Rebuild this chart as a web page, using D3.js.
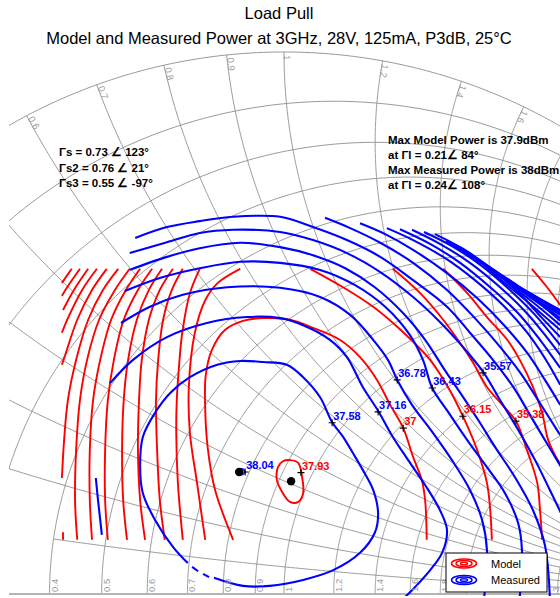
<!DOCTYPE html>
<html>
<head>
<meta charset="utf-8">
<script src="https://cdn.jsdelivr.net/npm/d3@7"></script>
<style>
  body { margin: 0; background: #fff; }
  svg { display: block; font-family: "Liberation Sans", Arial, sans-serif; }
</style>
</head>
<body>
<svg id="chart" width="560" height="598"></svg>
<script>
// Smith chart grid values (normalised resistance / reactance)
const rValues = [0.1, 0.2, 0.3, 0.4, 0.5, 0.6, 0.7, 0.8, 0.9, 1, 1.2, 1.4, 1.6, 1.8, 2, 3, 4, 5, 10, 20];
const xValues = [0.1, 0.2, 0.3, 0.4, 0.5, 0.6, 0.7, 0.8, 0.9, 1, 1.2, 1.4, 1.6, 1.8, 2, 3, 4, 5, 10, 20];
const rStartX = { 0.3: 0.2 };   // r circle drawn from this reactance on
const xStartR = { 0.1: 0.4 };   // x arc drawn from this resistance on
const rLabels = [0.4, 0.5, 0.6, 0.7, 0.8, 0.9, 1, 1.2, 1.4, 1.6, 1.8, 2, 3];
const xLabels = [0.6, 0.7, 0.8, 0.9, 1, 1.2, 1.4, 1.6];

const titleLines = ["Load Pull", "Model and Measured Power at 3GHz, 28V, 125mA, P3dB, 25\u00B0C"];
const sourceNotes = ["\u0393s = 0.73 \u2220 123\u00B0", "\u0393s2 = 0.76 \u2220 21\u00B0", "\u0393s3 = 0.55 \u2220 -97\u00B0"];
const maxNotes = ["Max Model Power is 37.9dBm", "at \u0393l = 0.21\u2220 84\u00B0",
                  "Max Measured Power is 38dBm", "at \u0393l = 0.24\u2220 108\u00B0"];

// contours, reflection coefficient [re, im]
const model3793 = [[0.011,0.247],[0.026,0.242],[0.033,0.216],[0.035,0.186],[0.026,0.170],[0.011,0.170],
  [-0.002,0.186],[-0.013,0.210],[-0.011,0.234],[-0.002,0.245]];
const model37 = [[-0.093,0.100],[-0.126,0.192],[-0.139,0.266],[-0.144,0.339],[-0.143,0.404],[-0.132,0.450],
  [-0.108,0.487],[-0.075,0.504],[-0.038,0.509],[0.011,0.506],[0.053,0.491],[0.102,0.469],[0.139,0.437],
  [0.170,0.395],[0.194,0.349],[0.218,0.306],[0.236,0.253],[0.252,0.210],[0.258,0.173],[0.261,0.100]];
const model3615L = [[-0.144,0.100],[-0.159,0.205],[-0.172,0.297],[-0.174,0.382],[-0.163,0.482],[-0.144,0.542],
  [-0.121,0.574],[-0.080,0.600]];
const model3615R = [[0.048,0.600],[0.108,0.566],[0.163,0.530],[0.207,0.493],[0.267,0.432],[0.303,0.376],
  [0.327,0.328],[0.353,0.266],[0.371,0.205],[0.377,0.155],[0.380,0.100]];
const model3538L = [[-0.154,0.600],[-0.172,0.555],[-0.186,0.482],[-0.192,0.419],[-0.196,0.358],[-0.197,0.297],
  [-0.194,0.205],[-0.185,0.100]];
const model3538R = [[0.199,0.600],[0.249,0.555],[0.291,0.506],[0.322,0.463],[0.346,0.426],[0.371,0.382],
  [0.399,0.349],[0.424,0.319],[0.444,0.266],[0.463,0.205],[0.468,0.155],[0.472,0.100]];
const model3460L = [[-0.185,0.600],[-0.205,0.561],[-0.221,0.506],[-0.230,0.432],[-0.234,0.358],[-0.232,0.266],
  [-0.227,0.173],[-0.218,0.100]];
const model3460R = [[0.291,0.600],[0.335,0.555],[0.371,0.511],[0.408,0.469],[0.431,0.432],[0.455,0.382],
  [0.472,0.334],[0.483,0.284],[0.505,0.238]];
const model3380L = [[-0.203,0.600],[-0.227,0.561],[-0.247,0.506],[-0.260,0.432],[-0.265,0.358],[-0.267,0.266],
  [-0.263,0.173],[-0.254,0.100]];
const model3380R = [[0.453,0.600],[0.481,0.566],[0.505,0.533]];
const modelOuter = [
  [[-0.223,0.600],[-0.247,0.561],[-0.269,0.506],[-0.285,0.432],[-0.293,0.358],[-0.296,0.266],[-0.294,0.173],[-0.287,0.100]],
  [[-0.241,0.600],[-0.267,0.561],[-0.293,0.506],[-0.311,0.432],[-0.322,0.358],[-0.327,0.266],[-0.327,0.173],[-0.322,0.100]],
  [[-0.263,0.600],[-0.289,0.561],[-0.316,0.506],[-0.336,0.432],[-0.349,0.358],[-0.355,0.266],[-0.355,0.173],[-0.351,0.100]],
  [[-0.282,0.600],[-0.309,0.561],[-0.338,0.506],[-0.360,0.432],[-0.373,0.358],[-0.380,0.266],[-0.382,0.173],[-0.378,0.100]],
  [[-0.303,0.600],[-0.331,0.561],[-0.358,0.506],[-0.380,0.432],[-0.395,0.358],[-0.402,0.284],[-0.406,0.214]],
  [[-0.404,0.114],[-0.404,0.100]],
  [[-0.324,0.600],[-0.351,0.561],[-0.378,0.506],[-0.400,0.441],[-0.406,0.423]],
  [[-0.342,0.600],[-0.369,0.561],[-0.395,0.509],[-0.406,0.482]],
  [[-0.358,0.600],[-0.384,0.561],[-0.404,0.524]],
  [[-0.373,0.600],[-0.397,0.565],[-0.406,0.550]],
  [[-0.388,0.600],[-0.406,0.574]]
];

const meas3804 = [[-0.077,0.231],[-0.071,0.225],[-0.077,0.220],[-0.082,0.225]];
const meas3758 = [[-0.128,0.030],[-0.075,0.015],[-0.026,0.015],[0.035,0.026],[0.090,0.044],[0.139,0.076],
  [0.166,0.113],[0.172,0.149],[0.163,0.192],[0.144,0.229],[0.126,0.260],[0.108,0.290],[0.088,0.317],
  [0.066,0.363],[0.035,0.400],[0.005,0.423],[-0.038,0.428],[-0.080,0.430],[-0.122,0.423],[-0.172,0.400],
  [-0.208,0.371],[-0.236,0.334],[-0.258,0.290],[-0.263,0.234],[-0.258,0.186],[-0.236,0.137],[-0.203,0.087],
  [-0.176,0.057]];
const meas3758Dashes = [[[-0.168,0.050],[-0.157,0.042]], [[-0.148,0.037],[-0.137,0.031]]];
const meas3716 = [[-0.318,0.389],[-0.276,0.432],[-0.214,0.474],[-0.141,0.500],[-0.068,0.511],[-0.007,0.509],
  [0.035,0.496],[0.084,0.469],[0.115,0.437],[0.144,0.382],[0.172,0.338],[0.197,0.293],[0.227,0.247],
  [0.258,0.201],[0.285,0.155],[0.298,0.118],[0.289,0.076],[0.263,0.039],[0.234,0.007],[0.221,-0.006]];
const meas3716Left = [[-0.344,0.214],[-0.340,0.173],[-0.336,0.137],[-0.333,0.109]];
const meas3678 = [[-0.298,0.500],[-0.245,0.530],[-0.185,0.552],[-0.104,0.566],[-0.007,0.565],[0.066,0.548],
  [0.121,0.515],[0.163,0.469],[0.190,0.432],[0.207,0.395],[0.234,0.349],[0.271,0.299],[0.307,0.247],
  [0.340,0.192],[0.362,0.137],[0.371,0.081],[0.366,-0.006]];
const meas3643 = [[-0.291,0.559],[-0.227,0.583],[-0.154,0.601],[-0.080,0.613],[-0.007,0.611],[0.066,0.598],
  [0.130,0.570],[0.185,0.530],[0.230,0.478],[0.254,0.432],[0.271,0.380],[0.300,0.336],[0.335,0.284],
  [0.371,0.234],[0.404,0.186],[0.428,0.131],[0.435,0.081],[0.431,-0.006]];
const meas3600 = [[-0.282,0.598],[-0.214,0.622],[-0.154,0.638],[-0.080,0.648],[-0.007,0.640],[0.053,0.625],
  [0.112,0.601],[0.166,0.566],[0.218,0.518],[0.258,0.469],[0.294,0.413],[0.325,0.367],[0.355,0.321],
  [0.386,0.271],[0.422,0.216],[0.455,0.155],[0.477,0.090],[0.486,-0.006]];
const meas3557 = [[-0.282,0.629],[-0.214,0.649],[-0.154,0.666],[-0.093,0.672],[-0.007,0.668],[0.053,0.653],
  [0.115,0.629],[0.176,0.594],[0.236,0.548],[0.285,0.502],[0.327,0.456],[0.364,0.410],[0.395,0.358],
  [0.428,0.303],[0.459,0.247],[0.486,0.192],[0.508,0.146]];
const meas3520 = [[-0.272,0.657],[-0.214,0.677],[-0.154,0.688],[-0.093,0.696],[-0.007,0.696],[0.053,0.677],
  [0.115,0.653],[0.176,0.622],[0.236,0.579],[0.298,0.530],[0.340,0.482],[0.382,0.432],[0.419,0.382],
  [0.450,0.330],[0.477,0.284],[0.508,0.232]];
const measOuter = [
  [[0.075,0.694],[0.121,0.675],[0.176,0.648],[0.236,0.611],[0.298,0.561],[0.349,0.509],[0.395,0.456],[0.435,0.404],[0.468,0.352],[0.505,0.293]],
  [[0.139,0.684],[0.185,0.664],[0.236,0.635],[0.298,0.592],[0.353,0.546],[0.404,0.494],[0.446,0.443],[0.477,0.395],[0.505,0.349]],
  [[0.188,0.675],[0.236,0.653],[0.294,0.620],[0.349,0.579],[0.400,0.533],[0.444,0.483],[0.477,0.435],[0.505,0.386]],
  [[0.212,0.673],[0.267,0.646],[0.322,0.611],[0.377,0.566],[0.428,0.518],[0.468,0.469],[0.505,0.417]],
  [[0.234,0.672],[0.285,0.646],[0.340,0.611],[0.395,0.566],[0.444,0.518],[0.477,0.478],[0.505,0.441]],
  [[0.256,0.668],[0.307,0.642],[0.362,0.605],[0.413,0.561],[0.459,0.515],[0.505,0.459]],
  [[0.276,0.664],[0.327,0.637],[0.382,0.598],[0.431,0.554],[0.472,0.509],[0.505,0.474]],
  [[0.296,0.651],[0.349,0.620],[0.400,0.577],[0.450,0.535],[0.505,0.487]],
  [[0.314,0.640],[0.367,0.609],[0.417,0.568],[0.464,0.531],[0.505,0.496]],
  [[0.333,0.627],[0.384,0.598],[0.431,0.561],[0.477,0.528],[0.505,0.504]],
  [[0.351,0.616],[0.400,0.587],[0.446,0.554],[0.505,0.509]],
  [[0.369,0.603],[0.417,0.576],[0.463,0.542],[0.505,0.515]],
  [[0.388,0.590],[0.431,0.566],[0.474,0.539],[0.505,0.518]],
  [[0.406,0.579],[0.450,0.555],[0.505,0.522]],
  [[0.424,0.566],[0.468,0.544],[0.505,0.524]]
];

// contour labels [text, re, im]
const measLabels = [["38.04",-0.071,0.225],["37.58",0.088,0.316],["37.16",0.172,0.336],
  ["36.78",0.207,0.395],["36.43",0.271,0.380],["35.57",0.364,0.408]];
const modelLabels = [["37.93",0.031,0.224],["37",0.218,0.306],["36.15",0.327,0.328],["35.38",0.424,0.319]];
const maxPoints = [[-0.082,0.225],[0.013,0.208]];

const RED = "#ff0000", BLUE = "#0000ff", GRID = "#8c8c8c";

const svg = d3.select("#chart");
const gx = d3.scaleLinear().domain([-1, 1]).range([284 - 547, 284 + 547]);
const gy = d3.scaleLinear().domain([-1, 1]).range([594 + 542, 594 - 542]);

svg.append("defs").append("clipPath").attr("id", "plot-clip")
  .append("rect").attr("x", 9).attr("y", 0).attr("width", 551).attr("height", 596);

const plot = svg.append("g").attr("clip-path", "url(#plot-clip)");

function gamma(r, x) {
  const d = (r + 1) ** 2 + x * x;
  return [(r * r + x * x - 1) / d, 2 * x / d];
}

// sample a grid curve along its free parameter (0..inf mapped through atan)
function sweep(from, f) {
  const a = Math.atan(from), b = Math.atan(1e4);
  return d3.range(0, 501).map((i) => f(Math.tan(a + (b - a) * i / 500)));
}

const straight = d3.line().x((d) => gx(d[0])).y((d) => gy(d[1]));

const gridG = plot.append("g").attr("fill", "none").attr("stroke", GRID).attr("stroke-width", 0.9);
rValues.forEach((r) => gridG.append("path").attr("d", straight(sweep(rStartX[r] || 0, (x) => gamma(r, x)))));
xValues.forEach((x) => gridG.append("path").attr("d", straight(sweep(xStartR[x] || 0, (r) => gamma(r, x)))));
gridG.append("path").attr("d", straight(sweep(0, (x) => gamma(0, x))));

plot.append("line")
  .attr("x1", gx(-1)).attr("x2", gx(1)).attr("y1", gy(0)).attr("y2", gy(0))
  .attr("stroke", "#b4b4b4").attr("stroke-width", 2.2);

// resistance labels on the real axis
svg.append("g").selectAll("text").data(rLabels).join("text")
  .attr("transform", (r) => `translate(${Math.min(gx(gamma(r, 0)[0]) + 8, 559)},592) rotate(-90)`)
  .attr("font-size", 9.5).attr("fill", "#9a9a9a")
  .text((r) => r);

// reactance labels on the rim
plot.append("g").selectAll("text").data(xLabels).join("text")
  .attr("transform", (x) => {
    const p = gamma(0, x);
    const px = gx(p[0]), py = gy(p[1]);
    const ang = Math.atan2(gy(0) - py, gx(0) - px);
    const tx = px + 3 * Math.cos(ang), ty = py + 3 * Math.sin(ang);
    return `translate(${tx},${ty}) rotate(${ang * 180 / Math.PI})`;
  })
  .attr("font-size", 9.5).attr("fill", "#9a9a9a")
  .text((x) => x);

const smooth = d3.line().x((d) => gx(d[0])).y((d) => gy(d[1])).curve(d3.curveCatmullRom.alpha(0.5));
const smoothClosed = d3.line().x((d) => gx(d[0])).y((d) => gy(d[1])).curve(d3.curveCatmullRomClosed.alpha(0.5));

const modelG = plot.append("g").attr("fill", "none").attr("stroke", RED).attr("stroke-width", 1.9);
modelG.append("path").attr("d", smoothClosed(model3793));
[model37, model3615L, model3615R, model3538L, model3538R, model3460L, model3460R, model3380L, model3380R, ...modelOuter]
  .forEach((c) => modelG.append("path").attr("d", smooth(c)));

const measG = plot.append("g").attr("fill", "none").attr("stroke", BLUE).attr("stroke-width", 2.1);
measG.append("path").attr("d", smoothClosed(meas3804)).attr("stroke-width", 1.5);
[meas3758, ...meas3758Dashes, meas3716, meas3716Left, meas3678, meas3643, meas3600, meas3557, meas3520, ...measOuter]
  .forEach((c) => measG.append("path").attr("d", smooth(c)));

// max points
plot.append("g").selectAll("circle").data(maxPoints).join("circle")
  .attr("cx", (d) => gx(d[0])).attr("cy", (d) => gy(d[1])).attr("r", 4.2).attr("fill", "#000");

// labelled contour markers
function drawLabels(rows, color) {
  const g = plot.append("g");
  rows.forEach(([txt, re, im]) => {
    const x = gx(re), y = gy(im);
    g.append("path").attr("d", `M${x - 3.5},${y}H${x + 3.5}M${x},${y - 3.5}V${y + 3.5}`)
      .attr("stroke", "#000").attr("stroke-width", 1.1);
    g.append("text").attr("x", x + 1).attr("y", y - 3)
      .attr("font-size", 11).attr("font-weight", "bold").attr("fill", color).text(txt);
  });
}
drawLabels(measLabels, BLUE);
drawLabels(modelLabels, RED);

// title
svg.append("g").attr("text-anchor", "middle").attr("font-size", 16.5).attr("fill", "#000")
  .selectAll("text").data(titleLines).join("text")
  .attr("x", 279).attr("y", (d, i) => 19 + i * 25).text((d) => d);

// annotations
svg.append("g").attr("font-size", 11.5).attr("font-weight", "bold").attr("fill", "#000")
  .selectAll("text").data(sourceNotes).join("text")
  .attr("x", 59).attr("y", (d, i) => 156 + i * 15.5).text((d) => d);
svg.append("g").attr("font-size", 11.5).attr("font-weight", "bold").attr("fill", "#000")
  .selectAll("text").data(maxNotes).join("text")
  .attr("x", 388).attr("y", (d, i) => 144 + i * 15).text((d) => d);

// legend
const legendItems = [["Model", RED], ["Measured", BLUE]];
const legend = svg.append("g").attr("transform", "translate(446,553)");
legend.append("rect").attr("width", 101).attr("height", 39)
  .attr("fill", "#fff").attr("stroke", "#000").attr("stroke-width", 1);
legendItems.forEach(([name, color], i) => {
  const cy = 10.5 + i * 16.5;
  [[12.5, 4.6], [8, 3], [3.5, 1.3]].forEach(([rx, ry]) =>
    legend.append("ellipse").attr("cx", 18).attr("cy", cy).attr("rx", rx).attr("ry", ry)
      .attr("fill", "none").attr("stroke", color).attr("stroke-width", 1.5));
  legend.append("text").attr("x", 45).attr("y", cy + 4.2).attr("font-size", 11).attr("fill", "#000").text(name);
});
</script>
</body>
</html>
